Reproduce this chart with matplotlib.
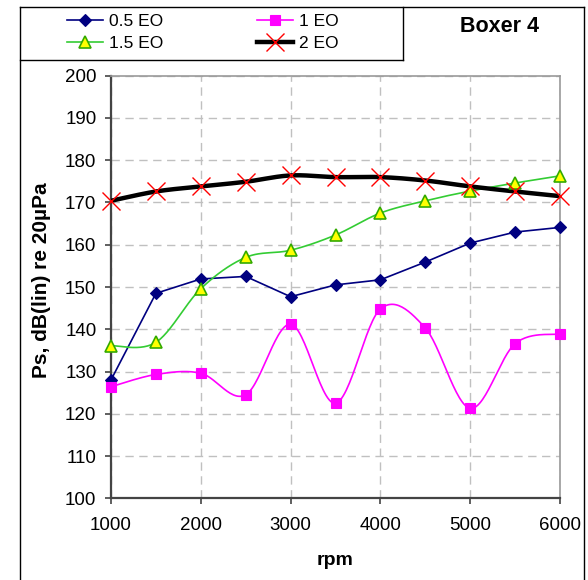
import numpy as np
import matplotlib
matplotlib.use("Agg")
import matplotlib.pyplot as plt
from matplotlib.lines import Line2D

plt.rcParams['font.family'] = ['Liberation Sans', 'DejaVu Sans']

rpm = [1000, 1500, 2000, 2500, 3000, 3500, 4000, 4500, 5000, 5500, 6000]
eo_05 = [128.0, 148.5, 151.9, 152.5, 147.7, 150.5, 151.7, 155.9, 160.4, 163.0, 164.1]
eo_1 = [126.4, 129.3, 129.6, 124.5, 141.2, 122.5, 144.8, 140.3, 121.3, 136.6, 138.9]
eo_15 = [136.1, 136.9, 149.6, 157.0, 158.7, 162.3, 167.5, 170.4, 172.7, 174.6, 176.3]
eo_2 = [170.4, 172.6, 173.8, 174.9, 176.4, 176.0, 176.0, 175.2, 173.8, 172.6, 171.5]
x_ticks = [1000, 2000, 3000, 4000, 5000, 6000]
y_ticks = list(range(100, 201, 10))


def smooth(xs, ys, n=30):
    """Catmull-Rom style Bezier smoothing through every point."""
    xs = np.asarray(xs, float)
    ys = np.asarray(ys, float)
    px = np.concatenate([[xs[0]], xs, [xs[-1]]])
    py = np.concatenate([[ys[0]], ys, [ys[-1]]])
    outx, outy = [], []
    t = np.linspace(0, 1, n)
    for i in range(1, len(px) - 2):
        p0 = np.array([px[i], py[i]])
        p3 = np.array([px[i + 1], py[i + 1]])
        c1 = p0 + (p3 - np.array([px[i - 1], py[i - 1]])) / 6.0
        c2 = p3 - (np.array([px[i + 2], py[i + 2]]) - p0) / 6.0
        b = ((1 - t) ** 3)[:, None] * p0 + (3 * (1 - t) ** 2 * t)[:, None] * c1 \
            + (3 * (1 - t) * t ** 2)[:, None] * c2 + (t ** 3)[:, None] * p3
        outx.extend(b[:, 0])
        outy.extend(b[:, 1])
    return np.array(outx), np.array(outy)


fig = plt.figure(figsize=(5.88, 5.80), dpi=100)
ax = fig.add_axes([111 / 588, 1 - 498.3 / 580, 449 / 588, (498.3 - 75.7) / 580])

# (values, label, smoothed?, line style, marker style)
series = [
    (eo_05, '0.5 EO', False, dict(color='#000080', lw=1.2),
     dict(marker='D', ms=6, mfc='#000080', mec='#000080', mew=0.8)),
    (eo_1, '1 EO', True, dict(color='#FF00FF', lw=1.2),
     dict(marker='s', ms=7, mfc='#FF00FF', mec='#FF00FF', mew=0.8)),
    (eo_15, '1.5 EO', True, dict(color='#33CC33', lw=1.2),
     dict(marker='^', ms=8, mfc='#FFFF00', mec='#33AA00', mew=1.2)),
    (eo_2, '2 EO', True, dict(color='black', lw=3.2),
     dict(marker='x', ms=13, mfc='none', mec='#FF0000', mew=1.0)),
]

handles = {}
for ys, label, smoothed, lstyle, mstyle in series:
    if smoothed:
        sx, sy = smooth(rpm, ys)
    else:
        sx, sy = rpm, ys
    ax.plot(sx, sy, zorder=3, **lstyle)
    ax.plot(rpm, ys, ls='none', zorder=4, clip_on=False, **mstyle)
    handles[label] = Line2D([0], [0], label=label, **lstyle, **mstyle)

ax.set_xlim(1000, 6000)
ax.set_ylim(100, 200)
ax.set_xticks(x_ticks)
ax.set_yticks(y_ticks)
ax.tick_params(axis='both', direction='out', length=4.5, width=1.2, color='#444444',
               labelsize=13.5, pad=6)
ax.tick_params(axis='x', pad=9)
ax.grid(True, color='#C0C0C0', ls=(0, (6, 4)), lw=1.0)
ax.set_axisbelow(True)
for side in ['left', 'bottom']:
    ax.spines[side].set_color('#444444')
    ax.spines[side].set_linewidth(1.6)
for side in ['top', 'right']:
    ax.spines[side].set_color('#999999')
    ax.spines[side].set_linewidth(1.2)

ax.set_xlabel('rpm', fontsize=14, fontweight='bold', labelpad=13)
ax.set_ylabel('Ps, dB(lin) re 20µPa', fontsize=15, fontweight='bold')
ax.yaxis.set_label_coords(-0.133, 0.515)

# outer chart frame and legend box (figure pixel coordinates)
W, H = 588, 580
def fx(px):
    return px / W
def fy(py):
    return 1 - py / H

frame_kw = dict(color='black', lw=1.0, transform=fig.transFigure)
fig.add_artist(Line2D([fx(20), fx(20)], [fy(581), fy(7)], **frame_kw))
fig.add_artist(Line2D([fx(20), fx(584)], [fy(7), fy(7)], **frame_kw))
fig.add_artist(Line2D([fx(584), fx(584)], [fy(7), fy(581)], **frame_kw))
fig.add_artist(Line2D([fx(20), fx(403)], [fy(60), fy(60)], **frame_kw))
fig.add_artist(Line2D([fx(403), fx(403)], [fy(7), fy(60)], **frame_kw))

order = ['0.5 EO', '1.5 EO', '1 EO', '2 EO']
fig.legend(handles=[handles[k] for k in order], ncol=2, loc='center left',
           bbox_to_anchor=(fx(67), fy(32.5)), frameon=False, fontsize=12.5,
           handlelength=2.07, handletextpad=0.35, columnspacing=5.4,
           labelspacing=0.35, borderaxespad=0, borderpad=0)

fig.text(fx(499), fy(27), 'Boxer 4', fontsize=15.5, fontweight='bold',
         ha='center', va='center')

fig.savefig('out.png', dpi=100)
